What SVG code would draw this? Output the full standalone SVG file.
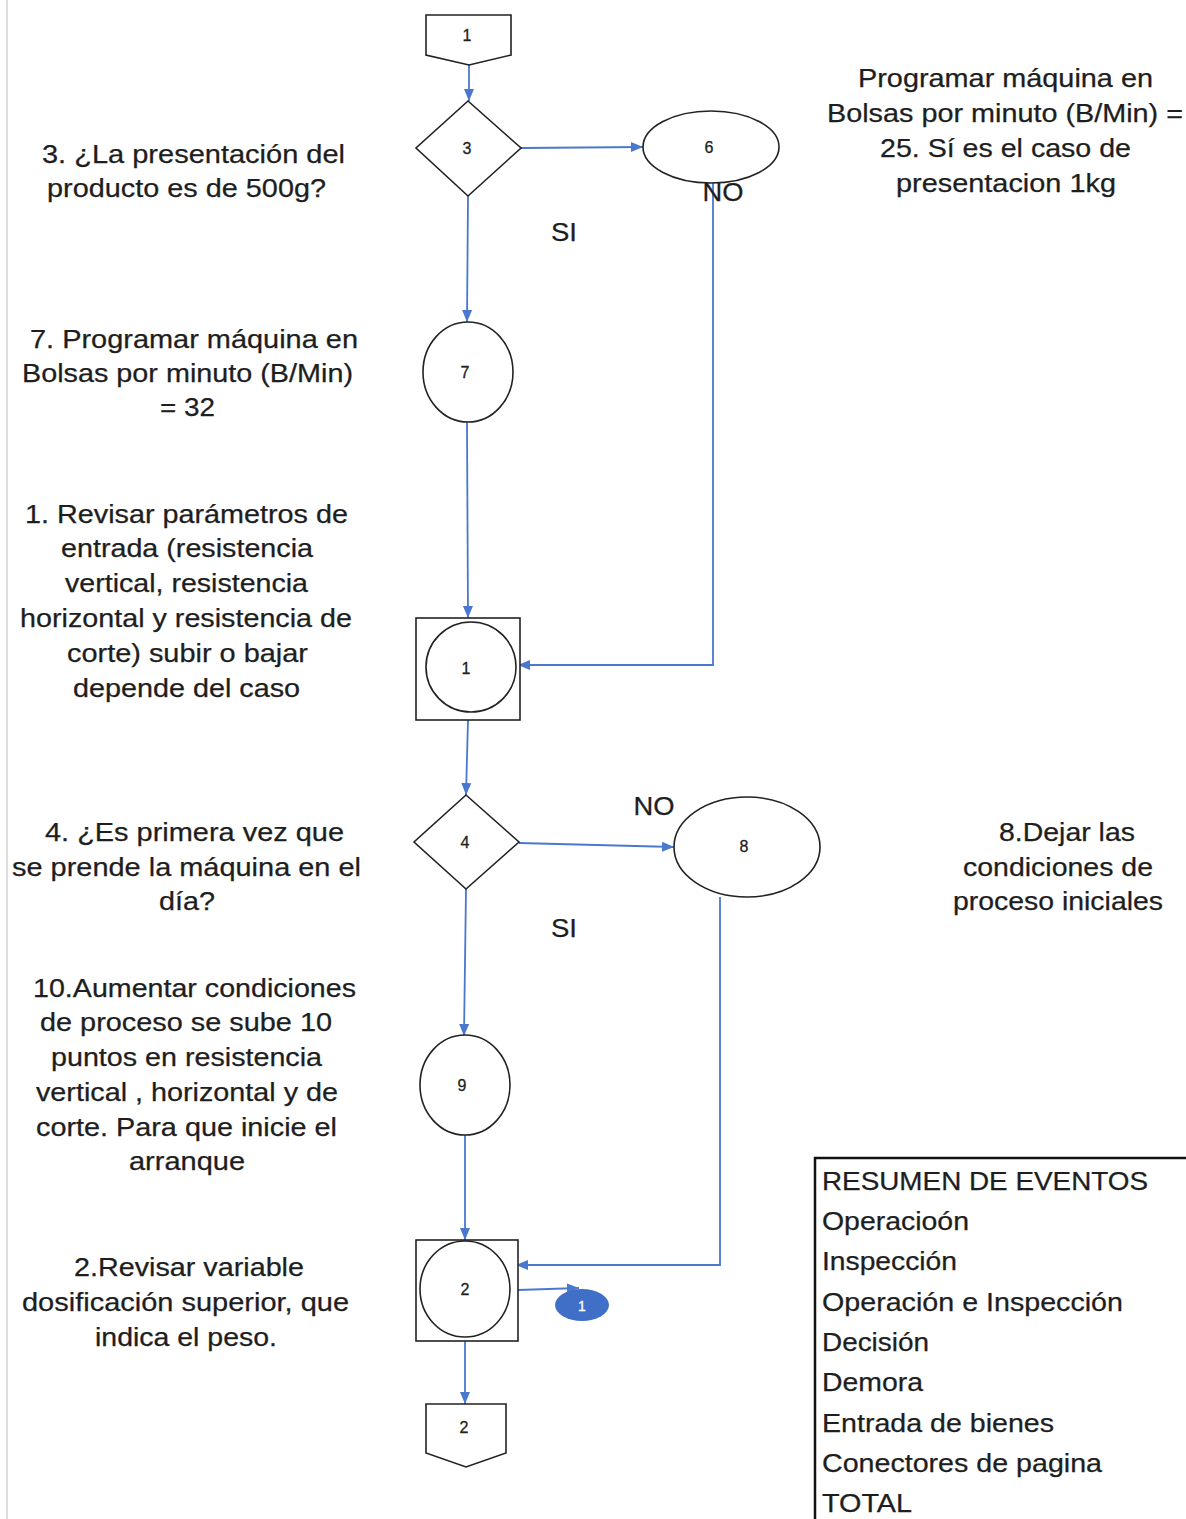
<svg xmlns="http://www.w3.org/2000/svg" width="1186" height="1519" viewBox="0 0 1186 1519">
  <style>
    .shape { fill: #ffffff; stroke: #222222; stroke-width: 1.6; }
    .num { font-family: "Liberation Sans", Arial, sans-serif; font-size: 16px; fill: #222222; text-anchor: middle; stroke: #222222; stroke-width: 0.3; }
    .txt { font-family: "Liberation Sans", Arial, sans-serif; font-size: 25px; fill: #1e1e1e; text-anchor: middle; stroke: #1e1e1e; stroke-width: 0.25; }
    .lst { font-family: "Liberation Sans", Arial, sans-serif; font-size: 25px; fill: #1e1e1e; stroke: #1e1e1e; stroke-width: 0.25; }
    .conn { fill: none; stroke: #4a78cf; stroke-width: 1.8; marker-end: url(#arrow); }
  </style>
  <defs>
    <marker id="arrow" markerUnits="userSpaceOnUse" markerWidth="14" markerHeight="12" refX="12" refY="6" orient="auto">
      <path d="M0,1 L12,6 L0,11 Z" fill="#4a78cf"/>
    </marker>
  </defs>

  <rect x="0" y="0" width="1186" height="1519" fill="#ffffff"/>
  <line x1="7" y1="0" x2="7" y2="1519" stroke="#d0d0d0" stroke-width="1.5"/>

  <!-- connectors -->
  <g id="connectors">
    <path class="conn" d="M469 64 V101"/>
    <path class="conn" d="M521 148 L643 147"/>
    <path class="conn" d="M713 183 V665 H518"/>
    <path class="conn" d="M468 196 L467 322"/>
    <path class="conn" d="M467 422 L468 618"/>
    <path class="conn" d="M468 720 L466 795"/>
    <path class="conn" d="M519 843 L674 847"/>
    <path class="conn" d="M720 897 V1265 H516"/>
    <path class="conn" d="M466 889 L464 1036"/>
    <path class="conn" d="M465 1135 V1240"/>
    <path class="conn" d="M518 1290 L579 1288"/>
    <path class="conn" d="M465 1341 V1404"/>
  </g>

  <!-- off-page connector in -->
  <g id="conn-in-1">
    <path class="shape" d="M426 15 H511 V55 L469 65 L426 55 Z"/>
    <text class="num" x="467" y="41">1</text>
  </g>

  <g id="dec-3">
    <path class="shape" d="M468 101 L521 148 L468 196 L416 148 Z"/>
    <text class="num" x="467" y="154">3</text>
  </g>

  <g id="op-6">
    <ellipse class="shape" cx="711" cy="147" rx="68" ry="36"/>
    <text class="num" x="709" y="153">6</text>
  </g>

  <g id="op-7">
    <ellipse class="shape" cx="468" cy="372" rx="45" ry="50"/>
    <text class="num" x="465" y="378">7</text>
  </g>

  <g id="opinsp-1">
    <rect class="shape" x="416" y="618" width="104" height="102"/>
    <ellipse class="shape" cx="471" cy="667" rx="45" ry="45"/>
    <text class="num" x="466" y="674">1</text>
  </g>

  <g id="dec-4">
    <path class="shape" d="M466 795 L519 842 L466 889 L414 842 Z"/>
    <text class="num" x="465" y="848">4</text>
  </g>

  <g id="op-8">
    <ellipse class="shape" cx="747" cy="847" rx="73" ry="50"/>
    <text class="num" x="744" y="852">8</text>
  </g>

  <g id="op-9">
    <ellipse class="shape" cx="465" cy="1085" rx="45" ry="50"/>
    <text class="num" x="462" y="1091">9</text>
  </g>

  <g id="opinsp-2">
    <rect class="shape" x="416" y="1240" width="102" height="101"/>
    <ellipse class="shape" cx="465" cy="1289" rx="45" ry="48"/>
    <text class="num" x="465" y="1295">2</text>
  </g>

  <g id="ref-1">
    <ellipse cx="582" cy="1305" rx="27" ry="16" fill="#3f6fc6"/>
    <text class="num" x="582" y="1311" style="fill:#ffffff;stroke:#ffffff;font-size:14px">1</text>
  </g>

  <g id="conn-out-2">
    <path class="shape" d="M426 1404 H506 V1453 L466 1467 L426 1453 Z"/>
    <text class="num" x="464" y="1433">2</text>
  </g>

  <!-- branch labels -->
  <g id="branch-labels">
    <text class="txt" x="723" y="201" textLength="41" lengthAdjust="spacingAndGlyphs">NO</text>
    <text class="txt" x="564" y="241" textLength="26" lengthAdjust="spacingAndGlyphs">SI</text>
    <text class="txt" x="654" y="815" textLength="41" lengthAdjust="spacingAndGlyphs">NO</text>
    <text class="txt" x="564" y="937" textLength="26" lengthAdjust="spacingAndGlyphs">SI</text>
  </g>

  <!-- step descriptions -->
  <g id="desc-3">
    <text class="txt" x="193.5" y="163" textLength="303" lengthAdjust="spacingAndGlyphs">3. ¿La presentación del</text>
    <text class="txt" x="186.5" y="197" textLength="279" lengthAdjust="spacingAndGlyphs">producto es de 500g?</text>
  </g>
  <g id="desc-7">
    <text class="txt" x="194" y="348" textLength="328" lengthAdjust="spacingAndGlyphs">7. Programar máquina en</text>
    <text class="txt" x="187.5" y="382" textLength="331" lengthAdjust="spacingAndGlyphs">Bolsas por minuto (B/Min)</text>
    <text class="txt" x="187.5" y="416" textLength="55" lengthAdjust="spacingAndGlyphs">= 32</text>
  </g>
  <g id="desc-1">
    <text class="txt" x="186.5" y="523" textLength="323" lengthAdjust="spacingAndGlyphs">1. Revisar parámetros de</text>
    <text class="txt" x="187" y="557" textLength="252" lengthAdjust="spacingAndGlyphs">entrada (resistencia</text>
    <text class="txt" x="186.5" y="592" textLength="243" lengthAdjust="spacingAndGlyphs">vertical, resistencia</text>
    <text class="txt" x="186" y="627" textLength="332" lengthAdjust="spacingAndGlyphs">horizontal y resistencia de</text>
    <text class="txt" x="187.5" y="662" textLength="241" lengthAdjust="spacingAndGlyphs">corte) subir o bajar</text>
    <text class="txt" x="186.5" y="697" textLength="227" lengthAdjust="spacingAndGlyphs">depende del caso</text>
  </g>
  <g id="desc-4">
    <text class="txt" x="194.5" y="841" textLength="299" lengthAdjust="spacingAndGlyphs">4. ¿Es primera vez que</text>
    <text class="txt" x="186.5" y="876" textLength="349" lengthAdjust="spacingAndGlyphs">se prende la máquina en el</text>
    <text class="txt" x="187" y="910" textLength="56" lengthAdjust="spacingAndGlyphs">día?</text>
  </g>
  <g id="desc-10">
    <text class="txt" x="194.5" y="997" textLength="323" lengthAdjust="spacingAndGlyphs">10.Aumentar condiciones</text>
    <text class="txt" x="186" y="1031" textLength="292" lengthAdjust="spacingAndGlyphs">de proceso se sube 10</text>
    <text class="txt" x="186.5" y="1066" textLength="271" lengthAdjust="spacingAndGlyphs">puntos en resistencia</text>
    <text class="txt" x="187" y="1101" textLength="302" lengthAdjust="spacingAndGlyphs">vertical , horizontal y de</text>
    <text class="txt" x="186.5" y="1136" textLength="301" lengthAdjust="spacingAndGlyphs">corte. Para que inicie el</text>
    <text class="txt" x="187" y="1170" textLength="116" lengthAdjust="spacingAndGlyphs">arranque</text>
  </g>
  <g id="desc-2">
    <text class="txt" x="189" y="1276" textLength="230" lengthAdjust="spacingAndGlyphs">2.Revisar variable</text>
    <text class="txt" x="185.5" y="1311" textLength="327" lengthAdjust="spacingAndGlyphs">dosificación superior, que</text>
    <text class="txt" x="186" y="1346" textLength="182" lengthAdjust="spacingAndGlyphs">indica el peso.</text>
  </g>
  <g id="desc-6">
    <text class="txt" x="1005.5" y="87" textLength="295" lengthAdjust="spacingAndGlyphs">Programar máquina en</text>
    <text class="txt" x="1005" y="122" textLength="356" lengthAdjust="spacingAndGlyphs">Bolsas por minuto (B/Min) =</text>
    <text class="txt" x="1005.5" y="157" textLength="251" lengthAdjust="spacingAndGlyphs">25. Sí es el caso de</text>
    <text class="txt" x="1006" y="192" textLength="220" lengthAdjust="spacingAndGlyphs">presentacion 1kg</text>
  </g>
  <g id="desc-8">
    <text class="txt" x="1067" y="841" textLength="136" lengthAdjust="spacingAndGlyphs">8.Dejar las</text>
    <text class="txt" x="1058" y="876" textLength="190" lengthAdjust="spacingAndGlyphs">condiciones de</text>
    <text class="txt" x="1058" y="910" textLength="210" lengthAdjust="spacingAndGlyphs">proceso iniciales</text>
  </g>

  <!-- events summary table -->
  <g id="summary">
    <path d="M1186 1158 H815 V1519" fill="none" stroke="#111111" stroke-width="2.5"/>
    <text class="lst" x="822" y="1190" textLength="326" lengthAdjust="spacingAndGlyphs">RESUMEN DE EVENTOS</text>
    <text class="lst" x="822" y="1230" textLength="147" lengthAdjust="spacingAndGlyphs">Operacioón</text>
    <text class="lst" x="822" y="1270" textLength="135" lengthAdjust="spacingAndGlyphs">Inspección</text>
    <text class="lst" x="822" y="1311" textLength="301" lengthAdjust="spacingAndGlyphs">Operación e Inspección</text>
    <text class="lst" x="822" y="1351" textLength="107" lengthAdjust="spacingAndGlyphs">Decisión</text>
    <text class="lst" x="822" y="1391" textLength="101" lengthAdjust="spacingAndGlyphs">Demora</text>
    <text class="lst" x="822" y="1432" textLength="232" lengthAdjust="spacingAndGlyphs">Entrada de bienes</text>
    <text class="lst" x="822" y="1472" textLength="280" lengthAdjust="spacingAndGlyphs">Conectores de pagina</text>
    <text class="lst" x="822" y="1512" textLength="90" lengthAdjust="spacingAndGlyphs">TOTAL</text>
  </g>
</svg>
